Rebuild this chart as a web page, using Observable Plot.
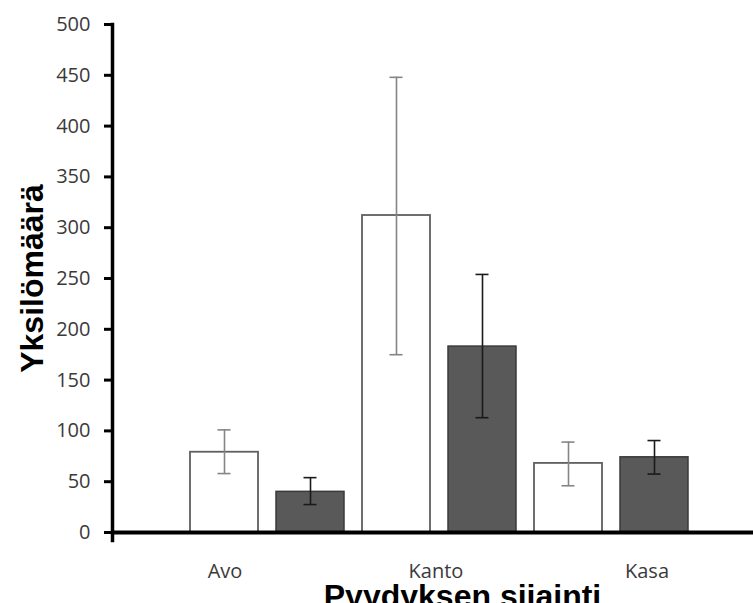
<!DOCTYPE html>
<html>
<head>
<meta charset="utf-8">
<script src="https://cdn.jsdelivr.net/npm/d3@7"></script>
<script src="https://cdn.jsdelivr.net/npm/@observablehq/plot@0.6"></script>
<style>
  html, body { margin: 0; padding: 0; background: #fff; }
  #wrap { position: relative; width: 753px; height: 603px; overflow: hidden; }
  #wrap svg { position: absolute; left: 0; top: 0; }
  #wrap svg.overlay { pointer-events: none; }
</style>
</head>
<body>
<div id="wrap"></div>
<script>
// ---- data ----
const categories = ["Avo", "Kanto", "Kasa"];
const seriesNames = ["Sarja 1", "Sarja 2"];
const series1Mean = [79, 312, 68];
const series1Low  = [58, 175, 46];
const series1High = [101, 448, 89];
const series2Mean = [40, 183, 74];
const series2Low  = [27.5, 113, 57.5];
const series2High = [54, 254, 90.5];
const yTicks = [0, 50, 100, 150, 200, 250, 300, 350, 400, 450, 500];
const yTitle = "Yksilömäärä";
const xTitle = "Pyydyksen sijainti";

// ---- build table ----
const rows = [];
categories.forEach((c, i) => {
  rows.push({cat: c, series: seriesNames[0], key: c + "|" + seriesNames[0], mean: series1Mean[i], lo: series1Low[i], hi: series1High[i]});
  rows.push({cat: c, series: seriesNames[1], key: c + "|" + seriesNames[1], mean: series2Mean[i], lo: series2Low[i], hi: series2High[i]});
});
const keys = rows.map(d => d.key);
const s1 = rows.filter(d => d.series === seriesNames[0]);
const s2 = rows.filter(d => d.series === seriesNames[1]);

const W = 753, H = 603;
const common = {
  width: W, height: H,
  marginTop: 24, marginBottom: 71, marginRight: 0
};

const main = Plot.plot({
  ...common,
  marginLeft: 112,
  style: {fontFamily: "'Open Sans', sans-serif", fontSize: "20px", background: "transparent", overflow: "visible"},
  x: {type: "band", domain: keys, paddingInner: 0.215, paddingOuter: 0.808, align: 0.543, axis: null},
  y: {domain: [0, 500], ticks: yTicks, axis: null},
  marks: [
    Plot.barY(s1, {x: "key", y: "mean", fill: "#ffffff", stroke: "#5f5f5f", strokeWidth: 1.8}),
    Plot.barY(s2, {x: "key", y: "mean", fill: "#595959", stroke: "#3a3a3a", strokeWidth: 1.5}),
    Plot.ruleX(s1, {x: "key", y1: "lo", y2: "hi", stroke: "#858585", strokeWidth: 1.6}),
    Plot.tickY(s1, {x: "key", y: "lo", stroke: "#858585", strokeWidth: 1.6, insetLeft: 27.5, insetRight: 27.5}),
    Plot.tickY(s1, {x: "key", y: "hi", stroke: "#858585", strokeWidth: 1.6, insetLeft: 27.5, insetRight: 27.5}),
    Plot.ruleX(s2, {x: "key", y1: "lo", y2: "hi", stroke: "#1a1a1a", strokeWidth: 1.6}),
    Plot.tickY(s2, {x: "key", y: "lo", stroke: "#1a1a1a", strokeWidth: 1.6, insetLeft: 27.5, insetRight: 27.5}),
    Plot.tickY(s2, {x: "key", y: "hi", stroke: "#1a1a1a", strokeWidth: 1.6, insetLeft: 27.5, insetRight: 27.5}),
    Plot.axisY({ticks: yTicks, tickSize: 8, tickPadding: 14, stroke: "#000", strokeWidth: 3, fill: "#3a3a3a", fontSize: 20, label: null}),
    Plot.ruleY([0], {stroke: "#000", strokeWidth: 4}),
    Plot.frame({anchor: "left", stroke: "#000", strokeWidth: 3.5, insetBottom: -8}),
    Plot.text([yTitle], {frameAnchor: "left", rotate: -90, dx: -70, textAnchor: "middle", lineAnchor: "bottom",
      fontSize: 32, fontWeight: "bold", fontFamily: "'Liberation Sans', Arial, sans-serif", fill: "#000"})
  ]
});

const overlay = Plot.plot({
  ...common,
  marginLeft: 118,
  style: {fontFamily: "'Open Sans', sans-serif", fontSize: "20px", background: "transparent", overflow: "visible"},
  x: {type: "band", domain: categories, padding: 0, axis: null},
  marks: [
    Plot.axisX({anchor: "bottom", tickSize: 0, tickPadding: 31, fill: "#3a3a3a", fontSize: 20, label: null}),
    Plot.text([xTitle], {frameAnchor: "bottom", dx: 26.5, dy: 74, textAnchor: "middle", lineAnchor: "bottom",
      fontSize: 32, fontWeight: "bold", fontFamily: "'Liberation Sans', Arial, sans-serif", fill: "#000"})
  ]
});
overlay.classList.add("overlay");

const wrap = document.getElementById("wrap");
wrap.appendChild(main);
wrap.appendChild(overlay);
</script>
</body>
</html>
